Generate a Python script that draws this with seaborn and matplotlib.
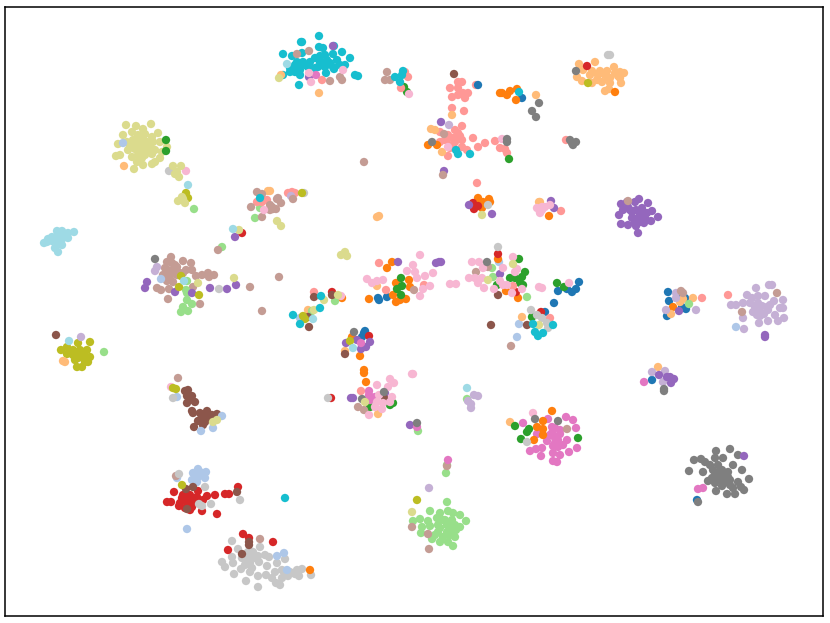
# t-SNE style embedding, 20 classes in tab20. Values.
import matplotlib
matplotlib.use("Agg")
import matplotlib.pyplot as plt
import pandas as pd
import seaborn as sns

COLOUR_NAMES = ["blue", "lblue", "orange", "lorange", "green", "lgreen", "red", "salmon",
                "purple", "lpurple", "brown", "lbrown", "pink", "lpink", "gray", "lgray",
                "olive", "lolive", "cyan", "lcyan"]

# dense clusters, drawn first
lolive_main = [(126,125),(136,126),(143,129),(151,124),(158,133),(123,135),(132,132),(138,135),(145,134),(152,137),(118,144),(127,142),(133,140),(140,142),(147,142),(153,142),(160,142),(167,147),(128,150),(135,149),(142,149),(148,147),(155,150),(162,152),(116,156),(120,155),(132,157),(138,155),(145,155),(152,154),(160,158),(143,165),(134,169),(152,164),(155,162),(140,138),(136,146),(145,146),(150,146),(140,152),(130,146),(143,138),(135,140),(148,150),(142,158),(137,162)]
cyan_main = [(319,36),(301,42),(302,42),(319,47),(323,48),(334,46),(342,52),(350,58),(283,54),(292,56),(302,53),(320,56),(333,54),(297,62),(303,62),(310,62),(320,62),(327,60),(337,60),(290,68),(298,67),(308,67),(318,67),(325,67),(333,67),(345,65),(283,75),(290,72),(300,75),(326,73),(334,69),(299,85),(355,75),(358,76),(295,65),(305,65),(315,58),(325,55),(330,63),(322,65),(315,68),(300,70),(295,72),(340,65)]
salmon_main = [(450,88),(458,82),(462,82),(452,97),(458,88),(463,93),(468,93),(465,98),(458,95),(476,85),(452,108),(464,111),(462,126),(440,132),(448,135),(458,133),(440,142),(447,140),(453,138),(462,140),(453,145),(462,147),(467,150),(448,156),(473,138),(478,147),(485,143),(495,141),(500,148),(505,149),(507,153),(445,140),(455,142),(450,148),(460,136),(455,130)]
lorange_main = [(579,64),(595,62),(583,70),(592,71),(600,71),(607,71),(614,67),(620,72),(624,73),(577,77),(582,81),(592,83),(600,73),(602,82),(608,78),(615,73),(620,78),(621,83),(605,91),(609,89),(598,75),(610,83),(605,75),(610,78),(618,76),(597,80),(590,75)]
purple_main = [(621,204),(627,202),(639,199),(635,202),(648,203),(623,210),(630,210),(642,208),(652,211),(619,215),(640,215),(647,213),(658,217),(632,218),(638,218),(645,218),(651,221),(621,224),(628,225),(635,223),(644,223),(638,233),(636,210),(632,212),(643,212),(640,222),(628,207),(636,226)]
lcyan_main = [(57,231),(62,231),(74,232),(52,237),(58,235),(63,235),(68,233),(68,238),(48,239),(55,239),(62,239),(44,243),(47,242),(52,241),(62,245),(55,248),(58,252),(58,242),(66,236)]
lbrown_main = [(171,257),(183,261),(191,263),(167,262),(172,263),(177,267),(168,270),(173,270),(186,270),(192,270),(163,275),(170,275),(177,275),(183,273),(167,281),(173,282),(196,276),(202,275),(208,273),(209,277),(214,275),(157,288),(161,290),(169,289),(168,299),(193,287),(200,304),(170,279),(175,265),(178,272),(165,268)]
lgreen_main = [(447,502),(430,511),(448,511),(440,513),(460,515),(453,513),(466,521),(420,519),(413,521),(428,521),(437,518),(443,520),(452,520),(430,526),(438,525),(447,525),(455,525),(460,527),(422,527),(421,533),(438,532),(447,532),(453,530),(455,537),(432,539),(440,542),(448,542),(453,546),(440,528),(445,520),(450,527),(435,535),(443,537),(450,535),(456,530)]
olive_main = [(90,342),(78,343),(67,347),(61,350),(73,350),(80,350),(87,350),(67,354),(73,355),(80,357),(90,357),(75,360),(85,362),(77,367),(82,367),(88,362),(76,352),(82,355),(70,352),(78,358),(84,352),(86,358)]
lpurple_main = [(756,288),(769,285),(772,285),(747,295),(758,296),(765,296),(752,298),(731,305),(736,305),(743,303),(750,303),(758,303),(767,307),(774,301),(783,300),(783,308),(780,308),(753,312),(760,312),(768,310),(760,316),(775,315),(784,318),(778,321),(768,321),(743,318),(759,323),(744,329),(755,307),(762,306),(757,315),(764,314),(770,305)]
pink_main = [(548,419),(566,417),(573,420),(523,423),(576,428),(552,427),(537,434),(552,433),(560,434),(547,441),(555,438),(567,440),(553,446),(563,445),(558,447),(542,448),(536,449),(530,451),(577,448),(569,452),(553,453),(560,455),(541,456),(553,461),(557,462),(555,428),(560,430),(550,435),(555,443),(558,440)]
gray_main = [(730,449),(716,451),(738,455),(694,460),(701,459),(705,462),(715,458),(723,458),(710,465),(718,465),(733,465),(689,471),(703,472),(713,470),(722,470),(728,472),(742,470),(718,477),(728,477),(749,479),(708,481),(715,483),(722,486),(730,485),(738,482),(741,487),(744,490),(733,488),(716,491),(727,494),(735,494),(715,475),(720,480),(725,475),(712,478),(720,472),(725,482),(730,480)]
lgray_main = [(232,541),(238,549),(260,547),(232,557),(233,563),(222,562),(225,567),(248,552),(253,552),(242,558),(248,558),(255,558),(265,555),(269,557),(259,562),(250,563),(267,566),(277,563),(285,559),(241,569),(250,572),(234,574),(246,581),(258,576),(266,575),(275,572),(282,570),(288,576),(282,578),(276,583),(280,585),(258,587),(297,570),(302,569),(295,574),(299,576),(311,575),(252,556),(258,556),(245,565),(252,568),(284,572),(290,572),(272,578),(248,560)]
lblue_main = [(198,469),(206,472),(193,473),(198,477),(205,478),(192,480),(202,475),(197,482),(200,472)]
red_main = [(174,492),(198,491),(238,487),(183,495),(190,495),(197,497),(207,496),(215,495),(225,494),(229,494),(167,502),(171,502),(180,503),(187,502),(193,502),(203,500),(179,506),(192,507),(202,511),(217,514),(187,495),(185,508),(190,510),(195,500),(182,498)]
brown_main = [(185,391),(188,390),(187,396),(192,396),(187,403),(195,402),(192,411),(193,413),(200,413),(207,411),(205,415),(212,415),(217,414),(198,421),(205,422),(203,425),(194,427),(200,420),(208,418),(190,400)]

# scattered points and small groups, drawn on top
blue = [(478,85),(522,98),(378,298),(379,300),(387,297),(365,331),(362,337),(364,333),(579,282),(558,291),(572,292),(576,289),(567,289),(554,303),(545,312),(668,292),(669,301),(677,298),(685,298),(682,307),(686,309),(667,316),(652,380),(697,500)]
lblue = [(123,143),(161,279),(300,318),(499,262),(519,324),(517,337),(736,327),(222,416),(201,431),(213,428),(177,397),(177,478),(187,529),(277,556),(284,553),(287,570)]
orange = [(500,93),(502,93),(507,95),(510,91),(517,89),(516,100),(428,145),(437,145),(478,198),(483,202),(489,199),(490,202),(482,208),(615,92),(549,216),(392,262),(387,268),(396,283),(409,280),(410,287),(393,295),(369,299),(406,299),(400,300),(396,302),(342,298),(352,337),(360,356),(364,370),(364,373),(366,382),(498,259),(506,291),(518,298),(673,307),(552,411),(537,427),(543,421),(543,429),(543,435),(534,440),(310,570)]
lorange = [(124,166),(319,93),(281,75),(452,115),(536,95),(431,129),(435,130),(442,152),(377,217),(379,216),(270,191),(268,191),(540,202),(539,202),(65,362),(63,361),(377,286),(308,310),(345,351),(378,414),(522,317),(680,302),(683,299),(693,298),(671,314),(658,367),(510,422)]
green = [(166,140),(166,151),(407,92),(404,87),(509,159),(401,278),(402,286),(397,289),(401,295),(519,259),(525,272),(522,277),(510,278),(515,278),(520,283),(497,285),(523,285),(557,283),(564,287),(532,317),(393,403),(390,405),(370,407),(515,426),(529,429),(527,432),(521,439),(578,438)]
lgreen = [(194,209),(260,208),(255,218),(222,247),(187,281),(186,290),(187,293),(187,300),(183,307),(192,304),(181,312),(188,311),(104,352),(335,301),(312,311),(492,268),(493,277),(527,297),(689,304),(467,399),(418,431),(447,465),(446,473)]
red = [(473,203),(478,206),(474,209),(587,66),(242,233),(332,292),(369,336),(498,254),(516,292),(541,312),(331,398),(243,534),(249,538),(273,542),(228,550)]
salmon = [(322,80),(405,72),(408,77),(401,88),(477,183),(292,192),(288,193),(295,193),(257,202),(267,200),(262,202),(566,140),(561,211),(379,263),(386,290),(424,285),(314,292),(361,391),(513,286),(550,318),(702,298),(728,295)]
purple = [(333,46),(309,77),(441,122),(444,171),(469,205),(492,214),(551,201),(554,208),(147,282),(145,288),(175,292),(192,293),(210,288),(227,289),(236,285),(235,237),(398,262),(436,263),(439,262),(346,343),(357,340),(370,342),(366,347),(361,349),(351,398),(353,398),(385,393),(410,425),(500,274),(441,262),(679,311),(765,335),(765,337),(659,375),(670,377),(674,379),(671,383),(667,377),(744,456)]
lpurple = [(449,125),(291,196),(157,267),(155,271),(81,337),(429,488),(474,395),(478,396),(468,401),(471,404),(471,408),(676,293),(676,298),(666,310),(696,310),(652,372),(665,371),(663,382)]
brown = [(454,74),(56,335),(314,297),(332,295),(308,317),(309,327),(345,354),(385,399),(491,325),(527,325),(498,295),(186,489),(193,487),(187,509),(237,492),(249,542),(249,545),(242,554)]
lbrown = [(309,51),(297,54),(330,81),(340,77),(342,80),(387,72),(385,80),(390,80),(444,134),(443,175),(364,162),(293,199),(278,198),(281,203),(272,207),(276,209),(270,210),(257,192),(262,194),(251,207),(277,199),(270,205),(273,209),(262,217),(628,201),(218,250),(250,287),(279,277),(262,311),(178,378),(414,290),(476,272),(488,267),(511,346),(777,293),(742,312),(681,291),(683,293),(358,407),(364,410),(567,429),(412,527),(428,534),(429,549),(447,466),(176,476),(260,539)]
pink = [(316,75),(361,343),(369,391),(369,395),(370,400),(375,397),(417,427),(448,460),(644,382),(698,489),(703,488)]
lpink = [(186,171),(309,73),(311,82),(343,70),(409,94),(448,147),(502,139),(264,210),(542,210),(545,207),(550,205),(540,213),(537,208),(542,207),(540,212),(420,255),(413,265),(407,271),(415,272),(433,273),(425,276),(417,278),(367,279),(372,283),(377,281),(383,280),(430,286),(423,289),(420,296),(341,296),(390,379),(394,383),(377,385),(388,387),(412,374),(413,374),(379,395),(392,397),(377,402),(383,403),(390,402),(375,407),(382,409),(369,415),(533,413),(513,257),(472,262),(479,262),(483,268),(503,268),(517,269),(515,272),(450,284),(456,284),(469,278),(475,278),(482,278),(478,283),(484,288),(494,289),(500,281),(503,285),(507,285),(512,293),(522,289),(539,287),(542,288),(569,283),(171,387)]
gray = [(539,103),(532,111),(536,117),(432,142),(507,139),(507,142),(576,71),(570,140),(573,145),(576,142),(572,143),(155,259),(354,332),(384,392),(362,399),(417,423),(487,262),(535,419),(558,421),(664,389),(664,391),(698,502)]
lgray = [(169,171),(488,205),(304,193),(610,55),(608,55),(219,289),(328,398),(498,247),(531,310),(537,315),(542,318),(547,323),(548,328),(173,398),(179,474),(205,487),(211,504),(199,504),(202,506),(240,500),(527,442)]
olive = [(186,193),(188,198),(302,193),(588,83),(181,276),(179,287),(199,295),(303,316),(305,319),(350,341),(173,388),(176,389),(182,485),(417,500)]
lolive = [(173,166),(181,166),(177,172),(175,174),(179,177),(178,201),(182,197),(185,203),(183,199),(279,78),(277,221),(281,226),(482,215),(198,283),(234,278),(239,230),(345,252),(341,255),(347,256),(338,295),(324,300),(314,310),(365,402),(513,264),(488,280),(539,325),(412,512),(213,422),(217,420)]
cyan = [(403,71),(395,77),(400,82),(402,75),(519,92),(456,150),(458,154),(470,154),(260,198),(293,315),(300,324),(321,296),(320,308),(533,324),(553,325),(535,332),(538,336),(543,333),(285,498)]
lcyan = [(287,64),(188,185),(184,281),(233,229),(69,341),(313,319),(353,348),(467,388)]

layers = [
    ("lolive", lolive_main), ("cyan", cyan_main), ("salmon", salmon_main), ("lorange", lorange_main),
    ("purple", purple_main), ("lcyan", lcyan_main), ("lbrown", lbrown_main), ("lgreen", lgreen_main),
    ("olive", olive_main), ("lpurple", lpurple_main), ("pink", pink_main), ("gray", gray_main),
    ("lgray", lgray_main), ("lblue", lblue_main), ("red", red_main), ("brown", brown_main),
    ("blue", blue), ("lblue", lblue), ("orange", orange), ("lorange", lorange), ("green", green),
    ("lgreen", lgreen), ("red", red), ("salmon", salmon), ("lpurple", lpurple), ("purple", purple),
    ("brown", brown), ("lbrown", lbrown), ("pink", pink), ("lpink", lpink), ("lgray", lgray),
    ("gray", gray), ("olive", olive), ("lolive", lolive), ("cyan", cyan), ("lcyan", lcyan),
]

rows = [(x, y, name) for name, pts in layers for x, y in pts]
df = pd.DataFrame(rows, columns=["x", "y", "colour"])

sns.set_style("white")
palette = dict(zip(COLOUR_NAMES, sns.color_palette("tab20", 20)))

fig = plt.figure(figsize=(8.3, 6.23), dpi=100)
ax = fig.add_axes([5 / 830, 1 - 616 / 623, 818 / 830, 609 / 623])
sns.scatterplot(data=df, x="x", y="y", hue="colour", palette=palette, s=36,
                linewidth=0, legend=False, ax=ax)
ax.set_xlim(5, 823)
ax.set_ylim(616, 7)
ax.set_xticks([])
ax.set_yticks([])
ax.set_xlabel("")
ax.set_ylabel("")
for spine in ax.spines.values():
    spine.set_color("black")
    spine.set_linewidth(1.1)

fig.savefig("out.png", dpi=100)
